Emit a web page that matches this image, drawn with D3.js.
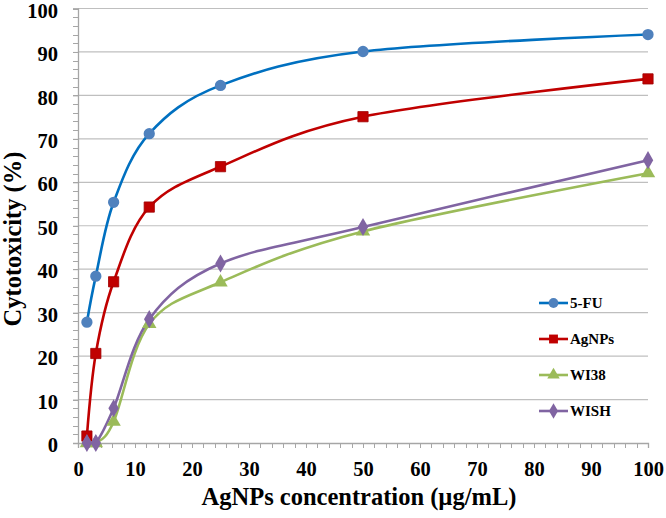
<!DOCTYPE html>
<html><head><meta charset="utf-8">
<script src="https://cdn.jsdelivr.net/npm/d3@7"></script>
<style>body{margin:0;background:#fff}svg{display:block}text{font-family:"Liberation Serif","Times New Roman",serif;font-weight:bold;fill:#000}</style>
</head><body>
<svg id="c" width="666" height="518"></svg>
<script>
const concentrations = [1.5625, 3.125, 6.25, 12.5, 25, 50, 100];
const fu5   = [27.8, 38.4, 55.4, 71.2, 82.3, 90.1, 94.0];
const agnps = [1.6, 20.6, 37.1, 54.3, 63.6, 75.1, 83.8];
const wi38  = [0, 0, 4.9, 27.4, 37.0, 48.7, 62.1];
const wish  = [0, 0, 8.0, 28.5, 41.3, 49.7, 65.1];
const seriesNames = ["5-FU", "AgNPs", "WI38", "WISH"];
const xTicks = [0,10,20,30,40,50,60,70,80,90,100];
const yTicks = [0,10,20,30,40,50,60,70,80,90,100];
const xTitle = "AgNPs concentration (µg/mL)";
const yTitle = "Cytotoxicity (%)";

const styles = [
  {line:"#0070C0", fill:"#4F81BD", shape:d3.symbolCircle, size:100},
  {line:"#C00000", fill:"#C00000", shape:d3.symbolSquare, size:105},
  {line:"#9BBB59", fill:"#9BBB59", shape:d3.symbolTriangle, size:90},
  {line:"#8064A2", fill:"#8064A2", shape:d3.symbolDiamond, size:95}
];
const data = [fu5, agnps, wi38, wish];

const svg = d3.select("#c");
const x = d3.scaleLinear().domain([0,100]).range([78,648]);
const y = d3.scaleLinear().domain([0,100]).range([443,8.5]);

// gridlines
svg.append("g").selectAll("line").data(yTicks.filter(d=>d>0)).join("line")
  .attr("x1",x(0)).attr("x2",x(100)).attr("y1",d=>y(d)).attr("y2",d=>y(d))
  .attr("stroke","#BFBFBF").attr("stroke-width",1.2);

// minor ticks
const minor = d3.range(0,101,2);
svg.append("g").selectAll("line").data(minor).join("line")
  .attr("x1",x(0)-5).attr("x2",x(0)).attr("y1",d=>Math.round(y(d))+0.5).attr("y2",d=>Math.round(y(d))+0.5)
  .attr("stroke","#A6A6A6");
svg.append("g").selectAll("line").data(minor).join("line")
  .attr("y1",y(0)).attr("y2",y(0)+5).attr("x1",d=>Math.round(x(d))+0.5).attr("x2",d=>Math.round(x(d))+0.5)
  .attr("stroke","#A6A6A6");

// axes
const xAxis = svg.append("g").attr("transform",`translate(0,${y(0)})`)
  .call(d3.axisBottom(x).tickValues(xTicks).tickSize(5).tickPadding(13).tickFormat(d3.format("d")));
const yAxis = svg.append("g").attr("transform",`translate(${x(0)},0)`)
  .call(d3.axisLeft(y).tickValues(yTicks).tickSize(5).tickPadding(14).tickFormat(d3.format("d")));
[xAxis,yAxis].forEach(a=>{
  a.select(".domain").attr("stroke","#A6A6A6").attr("stroke-width",1.3);
  a.selectAll(".tick line").attr("stroke","#A6A6A6");
  a.selectAll("text").attr("font-size",20.5).attr("font-family","Liberation Serif, Times New Roman, serif").attr("font-weight","bold").attr("fill","#000");
});
yAxis.selectAll("text").attr("dx","-1").attr("dy","0.42em");

// lines
const line = d3.line().x((d,i)=>x(concentrations[i])).y(d=>y(d)).curve(d3.curveCatmullRom.alpha(0));
data.forEach((vals,k)=>{
  svg.append("path").datum(vals).attr("d",line).attr("fill","none")
    .attr("stroke",styles[k].line).attr("stroke-width",2.6);
});
data.forEach((vals,k)=>{
  svg.append("g").selectAll("path").data(vals).join("path")
    .attr("d",d3.symbol().type(styles[k].shape).size(styles[k].size))
    .attr("transform",(d,i)=>`translate(${x(concentrations[i])},${y(d)})`)
    .attr("fill",styles[k].fill).attr("stroke",k===1?"#A00000":"none").attr("stroke-width",0.8);
});

// legend
const leg = svg.append("g");
seriesNames.forEach((n,k)=>{
  const ly = 303 + k*36;
  leg.append("line").attr("x1",539).attr("x2",568).attr("y1",ly).attr("y2",ly)
    .attr("stroke",styles[k].line).attr("stroke-width",2.6);
  leg.append("path").attr("d",d3.symbol().type(styles[k].shape).size(styles[k].size*0.75))
    .attr("transform",`translate(553.5,${ly})`).attr("fill",styles[k].fill);
  leg.append("text").attr("x",570).attr("y",ly).attr("dy","0.35em").attr("font-size",15).text(n);
});

// titles
svg.append("text").attr("x",359).attr("y",505).attr("text-anchor","middle").attr("font-size",24.5).text(xTitle);
svg.append("text").attr("transform","translate(21,239) rotate(-90)").attr("text-anchor","middle").attr("font-size",24.5).text(yTitle);
</script>
</body></html>
